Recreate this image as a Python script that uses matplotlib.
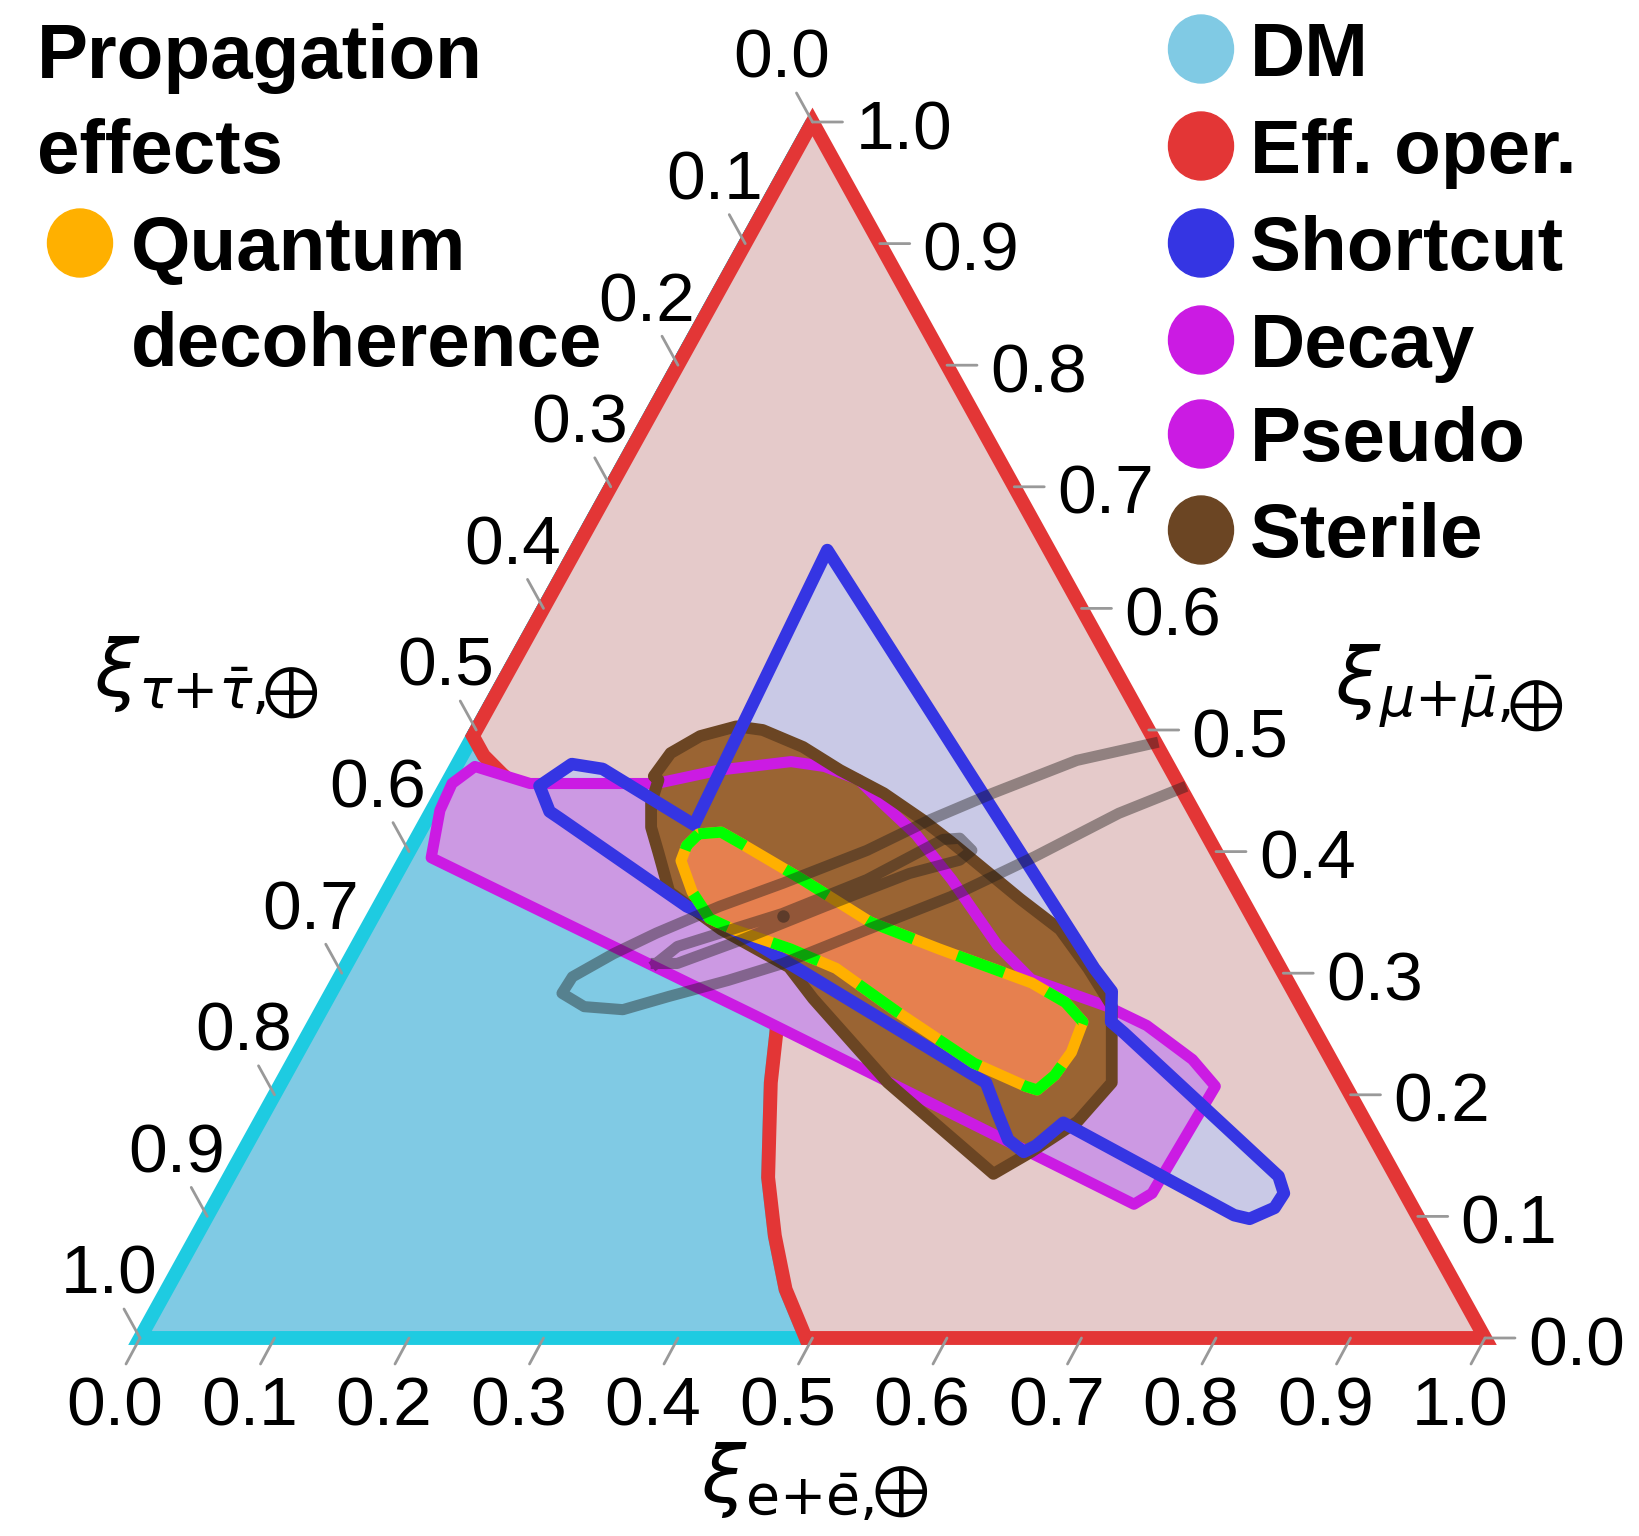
import numpy as np
import matplotlib.pyplot as plt
from matplotlib.patches import Polygon, Ellipse

plt.rcParams['font.family'] = ['Liberation Sans', 'DejaVu Sans']
plt.rcParams['mathtext.fontset'] = 'dejavusans'

# all regions as (e, mu) flavour fractions; tau = 1 - e - mu
eff_curve = [(0.000, 0.495), (0.016, 0.479), (0.037, 0.464), (0.083, 0.434), (0.137, 0.404),
             (0.173, 0.383), (0.244, 0.343), (0.291, 0.322), (0.325, 0.305), (0.333, 0.286),
             (0.348, 0.250), (0.364, 0.210), (0.382, 0.172), (0.401, 0.132), (0.430, 0.084),
             (0.460, 0.040), (0.495, 0.000)]

dm_region = [(0.0, 1.0), (0.0, 0.0)] + eff_curve[::-1]
eff_region = [(0.0, 1.0), (1.0, 0.0)] + eff_curve[::-1]

shortcut = [(0.187, 0.648), (0.5575, 0.304), (0.580, 0.285), (0.592, 0.260), (0.606, 0.251),
            (0.780, 0.133), (0.791, 0.119), (0.790, 0.107), (0.776, 0.098), (0.763, 0.101),
            (0.598, 0.177), (0.587, 0.158), (0.5805, 0.153), (0.564, 0.163), (0.545, 0.185),
            (0.524, 0.210), (0.512, 0.216), (0.261, 0.342), (0.229, 0.355), (0.099, 0.427),
            (0.088, 0.433), (0.070, 0.454), (0.085, 0.472), (0.110, 0.468), (0.201, 0.422)]

decay = [(0.019, 0.395), (0.006, 0.434), (0.004, 0.456), (0.014, 0.470), (0.062, 0.456),
         (0.156, 0.456), (0.197, 0.467), (0.247, 0.474), (0.274, 0.470), (0.305, 0.459),
         (0.329, 0.442), (0.370, 0.414), (0.415, 0.377), (0.476, 0.323), (0.515, 0.295),
         (0.582, 0.273), (0.620, 0.257), (0.668, 0.229), (0.696, 0.207), (0.693, 0.119),
         (0.684, 0.110), (0.325, 0.265)]
pseudo = decay

sterile = [(0.151, 0.462), (0.154, 0.481), (0.169, 0.495), (0.192, 0.503), (0.213, 0.500),
           (0.250, 0.486), (0.287, 0.467), (0.329, 0.448), (0.369, 0.426), (0.399, 0.408),
           (0.474, 0.361), (0.516, 0.336), (0.553, 0.304), (0.586, 0.273), (0.602, 0.241),
           (0.6175, 0.210), (0.608, 0.178), (0.586, 0.153), (0.567, 0.135), (0.451, 0.210),
           (0.361, 0.279), (0.330, 0.305), (0.264, 0.336), (0.210, 0.367), (0.186, 0.399),
           (0.170, 0.420), (0.160, 0.440), (0.156, 0.459)]

quantum = [(0.208, 0.4145), (0.224, 0.416), (0.247, 0.405), (0.304, 0.377), (0.372, 0.342),
           (0.434, 0.320), (0.517, 0.292), (0.550, 0.276), (0.571, 0.260), (0.575, 0.235),
           (0.572, 0.216), (0.565, 0.204), (0.555, 0.207), (0.507, 0.226), (0.431, 0.267),
           (0.3655, 0.304), (0.3235, 0.320), (0.273, 0.336), (0.251, 0.345), (0.227, 0.367),
           (0.206, 0.3925), (0.204, 0.405)]

# measured flavour composition contours (open at the triangle edge)
meas_outer = [(0.5086, 0.489), (0.459, 0.475), (0.410, 0.448), (0.374, 0.426), (0.340, 0.401),
              (0.291, 0.374), (0.2535, 0.355), (0.2175, 0.333), (0.194, 0.316), (0.173, 0.297),
              (0.172, 0.2835), (0.194, 0.2725), (0.224, 0.270), (0.253, 0.281), (0.290, 0.294),
              (0.324, 0.308), (0.373, 0.336), (0.4215, 0.363), (0.4675, 0.396), (0.512, 0.4315),
              (0.548, 0.452)]
meas_inner = [(0.2298, 0.308), (0.2386, 0.322), (0.303, 0.349), (0.352, 0.377), (0.392, 0.410),
              (0.404, 0.411), (0.418, 0.401), (0.413, 0.393), (0.381, 0.382), (0.3316, 0.355),
              (0.2827, 0.327), (0.2454, 0.308)]
best_fit = (0.3045, 0.347)

ticks = [0.0, 0.1, 0.2, 0.3, 0.4, 0.5, 0.6, 0.7, 0.8, 0.9, 1.0]
tick_labels = ['0.0', '0.1', '0.2', '0.3', '0.4', '0.5', '0.6', '0.7', '0.8', '0.9', '1.0']

legend_names = ['DM', 'Eff. oper.', 'Shortcut', 'Decay', 'Pseudo', 'Sterile']
legend_colors = ['#80CAE4', '#E33636', '#3535E3', '#CB1BE3', '#CB1BE3', '#6B4523']


def to_xy(pts):
    pts = np.atleast_2d(np.asarray(pts, dtype=float))
    return np.column_stack([pts[:, 0] + pts[:, 1] / 2, pts[:, 1]])


W, H = 1640, 1536
fig = plt.figure(figsize=(W / 100, H / 100), dpi=100)
ax = fig.add_axes([140 / W, 1 - 1338 / H, 1345 / W, 1216 / H])
ax.set_xlim(0, 1)
ax.set_ylim(0, 1)
ax.axis('off')


def region(pts, fc, ec, lw, zf, ze=None, join='round'):
    xy = to_xy(pts)
    if fc is not None:
        ax.add_patch(Polygon(xy, closed=True, facecolor=fc, edgecolor='none', zorder=zf, clip_on=False))
    if ec is not None:
        ax.add_patch(Polygon(xy, closed=True, facecolor='none', edgecolor=ec, lw=lw,
                             joinstyle=join, zorder=ze if ze is not None else zf, clip_on=False))


region(dm_region, '#80CAE4', '#1ECBE1', 10, 1, join='miter')
region(eff_region, '#E5CACA', '#E33636', 10, 2, join='miter')
region(shortcut, '#C9C9E6', None, 0, 3)
region(decay, '#CC99E3', None, 0, 4)
region(sterile, '#9A6433', None, 0, 5)
region(decay, None, '#CB1BE3', 8, 6)
region(sterile, None, '#6B4523', 8.5, 7)
region(shortcut, None, '#3535E3', 9, 8)
region(quantum, '#E6804F', '#FFB000', 8, 9)

q = to_xy(quantum + quantum[:1])
ax.plot(q[:, 0], q[:, 1], color='#00FF00', lw=8, ls=(0, (4.5, 4.2)), zorder=10,
        solid_capstyle='butt', clip_on=False)

gcol = '#1e1c1a'
o = to_xy(meas_outer)
ax.plot(o[:, 0], o[:, 1], color=gcol, alpha=0.42, lw=8, solid_joinstyle='round', zorder=11)
i = to_xy(meas_inner + meas_inner[:1])
ax.plot(i[:, 0], i[:, 1], color=gcol, alpha=0.42, lw=8, solid_joinstyle='round', zorder=11)
b = to_xy(best_fit)
ax.plot(b[:, 0], b[:, 1], 'o', color=gcol, alpha=0.45, ms=9, mew=0, zorder=11)

# axis ticks and labels
tcol = '#999999'
for v, lab in zip(ticks, tick_labels):
    pb = to_xy((v, 0.0))[0]
    ax.annotate('', xy=pb, xytext=(-14, -26), textcoords='offset pixels',
                arrowprops=dict(arrowstyle='-', color=tcol, lw=2, shrinkA=0, shrinkB=0))
    ax.annotate(lab, xy=pb, xytext=(-25, -88), textcoords='offset pixels',
                ha='center', va='baseline', fontsize=50)

    pr = to_xy((1 - v, v))[0]
    ax.annotate('', xy=pr, xytext=(30, 0), textcoords='offset pixels',
                arrowprops=dict(arrowstyle='-', color=tcol, lw=2, shrinkA=0, shrinkB=0))
    ax.annotate(lab, xy=pr, xytext=(43, -27), textcoords='offset pixels',
                ha='left', va='baseline', fontsize=50)

    pl = to_xy((0.0, 1 - v))[0]
    ax.annotate('', xy=pl, xytext=(-16, 29), textcoords='offset pixels',
                arrowprops=dict(arrowstyle='-', color=tcol, lw=2, shrinkA=0, shrinkB=0))
    ax.annotate(lab, xy=pl, xytext=(-31, 44), textcoords='offset pixels',
                ha='center', va='baseline', fontsize=50)


def fx(px):
    return px / W


def fy(py):
    return 1 - py / H


# axis titles: xi with subscript, then a larger circled plus
oplus = dict(ha='center', va='center', fontsize=50, math_fontfamily='stix')
fig.text(fx(874), fy(1482), r'$\xi_{\mathrm{e}{+}\bar{\mathrm{e}}{,}}$', ha='right', va='center', fontsize=57)
fig.text(fx(900), fy(1491), r'$\oplus$', **oplus)
fig.text(fx(266), fy(676), r'$\xi_{\tau{+}\bar{\tau}{,}}$', ha='right', va='center', fontsize=57)
fig.text(fx(290), fy(692), r'$\oplus$', **oplus)
fig.text(fx(1511), fy(686), r'$\xi_{\mu{+}\bar{\mu}{,}}$', ha='right', va='center', fontsize=57)
fig.text(fx(1535), fy(705), r'$\oplus$', **oplus)

# legends
fig.text(fx(37), fy(78), 'Propagation', ha='left', va='baseline', fontsize=55, fontweight='bold')
fig.text(fx(37), fy(173), 'effects', ha='left', va='baseline', fontsize=55, fontweight='bold')
fig.add_artist(Ellipse((fx(80), fy(243)), 65 / W, 68 / H, transform=fig.transFigure, color='#FFB000'))
fig.text(fx(131), fy(270), 'Quantum', ha='left', va='baseline', fontsize=55, fontweight='bold')
fig.text(fx(131), fy(366), 'decoherence', ha='left', va='baseline', fontsize=55, fontweight='bold')

leg_y = [49, 146, 243, 340, 434, 530]
for name, col, yy in zip(legend_names, legend_colors, leg_y):
    fig.add_artist(Ellipse((fx(1201), fy(yy)), 65 / W, 68 / H, transform=fig.transFigure, color=col))
    fig.text(fx(1250), fy(yy + 27), name, ha='left', va='baseline', fontsize=55, fontweight='bold')

fig.savefig('out.png', dpi=100)
